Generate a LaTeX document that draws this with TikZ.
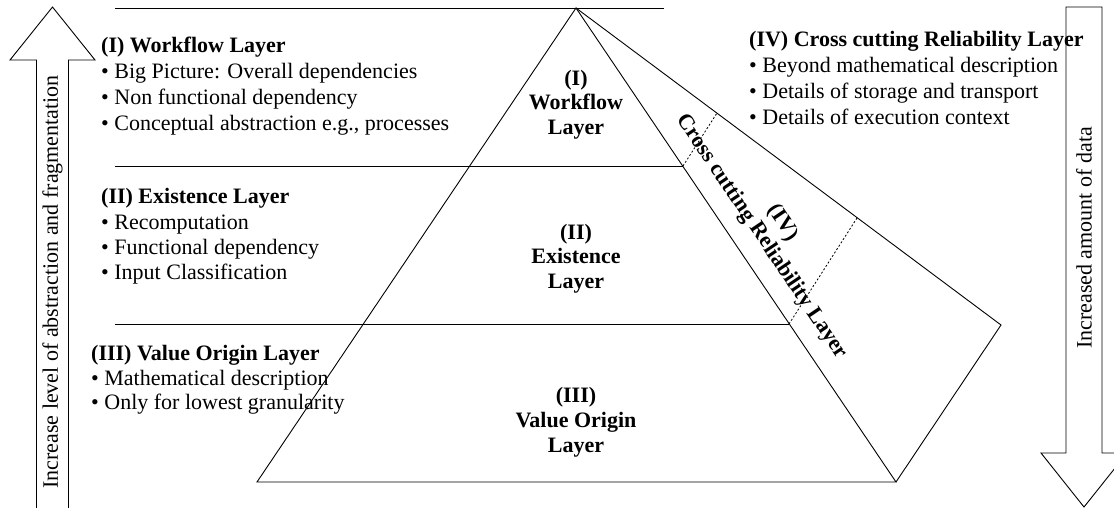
\documentclass[tikz,border=0pt]{standalone}
\usepackage{fontspec}
\setmainfont{Liberation Serif}
\begin{document}
\begin{tikzpicture}[x=1pt,y=-1pt,
  edge/.style={line width=0.9pt, line join=miter},
  guide/.style={line width=0.8pt, dash pattern=on 2pt off 2pt},
  bigarrow/.style={line width=0.9pt, line join=miter, fill=white},
  txt/.style={inner sep=0pt, anchor=base west, font=\fontsize{22}{25}\selectfont},
  hd/.style={inner sep=0pt, anchor=base west, font=\fontsize{22}{25}\selectfont\bfseries},
  lbl/.style={inner sep=0pt, anchor=base, font=\fontsize{22}{25}\selectfont\bfseries},
  vtxt/.style={inner sep=0pt, rotate=90, font=\fontsize{22}{25}\selectfont},
]
\useasboundingbox (0,0) rectangle (1114,508);

% pyramid corners
\coordinate (apex) at (576,8);
\coordinate (bl) at (257,482);
\coordinate (br) at (896,482);
\coordinate (back) at (1001,325);
% layer separators
\coordinate (t0) at (115,8);   \coordinate (t1) at (664,8);
\coordinate (m0) at (115,166); \coordinate (m1) at (683,166);
\coordinate (n0) at (115,324); \coordinate (n1) at (789,324);
% separators continued on the side face
\coordinate (d1) at (717,113);
\coordinate (d2) at (857,218);

\draw[edge] (t0) -- (t1);
\draw[edge] (m0) -- (m1);
\draw[edge] (n0) -- (n1);
\draw[edge] (bl) -- (apex) -- (br) -- cycle;
\draw[edge] (apex) -- (back) -- (br);
\draw[guide] (m1) -- (d1);
\draw[guide] (n1) -- (d2);

% upward arrow on the left
\coordinate (ua1) at (36.5,512);
\coordinate (ua2) at (36.5,60);
\coordinate (ua3) at (10,60);
\coordinate (uatip) at (52.5,7);
\coordinate (ua5) at (95,60);
\coordinate (ua6) at (68.5,60);
\coordinate (ua7) at (68.5,512);
\draw[bigarrow] (ua1) -- (ua2) -- (ua3) -- (uatip) -- (ua5) -- (ua6) -- (ua7);
\node[vtxt] (upl) at (52.5,282) {Increase level of abstraction and fragmentation};

% downward arrow on the right
\coordinate (da1) at (1066,7);
\coordinate (da2) at (1066,453);
\coordinate (da3) at (1041,453);
\coordinate (datip) at (1084,507);
\coordinate (da5) at (1127,453);
\coordinate (da6) at (1102,453);
\coordinate (da7) at (1102,7);
\draw[bigarrow] (da1) -- (da2) -- (da3) -- (datip) -- (da5) -- (da6) -- (da7) -- cycle;
\node[vtxt] (dnl) at (1084,238) {Increased amount of data};

% layer descriptions
\node[hd]  (w0) at (101,53)    {(I) Workflow Layer};
\node[txt] (w1) at (101,79)    {• Big Picture: Overall dependencies};
\node[txt] (w2) at (101,105)   {• Non functional dependency};
\node[txt] (w3) at (101,130.5) {• Conceptual abstraction e.g., processes};

\node[hd]  (e0) at (101,204)   {(II) Existence Layer};
\node[txt] (e1) at (101,229.5) {• Recomputation};
\node[txt] (e2) at (101,254.5) {• Functional dependency};
\node[txt] (e3) at (101,279.5) {• Input Classification};

\node[hd]  (v0) at (91,360)    {(III) Value Origin Layer};
\node[txt] (v1) at (91,385)    {• Mathematical description};
\node[txt] (v2) at (91,409.5)  {• Only for lowest granularity};

\node[hd]  (r0) at (749,46.5)  {(IV) Cross cutting Reliability Layer};
\node[txt] (r1) at (749,73)    {• Beyond mathematical description};
\node[txt] (r2) at (749,99)    {• Details of storage and transport};
\node[txt] (r3) at (749,124.5) {• Details of execution context};

% labels inside the pyramid
\node[lbl] (p1a) at (576,86)  {(I)};
\node[lbl] (p1b) at (576,110) {Workflow};
\node[lbl] (p1c) at (576,135) {Layer};
\node[lbl] (p2a) at (576,239) {(II)};
\node[lbl] (p2b) at (576,263.5) {Existence};
\node[lbl] (p2c) at (576,288) {Layer};
\node[lbl] (p3a) at (576,402) {(III)};
\node[lbl] (p3b) at (576,427) {Value Origin};
\node[lbl] (p3c) at (576,452) {Layer};

% label along the side face
\node[inner sep=0pt, rotate=-56, align=center,
      font=\fontsize{22}{25}\selectfont\bfseries] (side) at (772,230)
  {(IV)\\Cross cutting Reliability Layer};
\end{tikzpicture}
\end{document}
